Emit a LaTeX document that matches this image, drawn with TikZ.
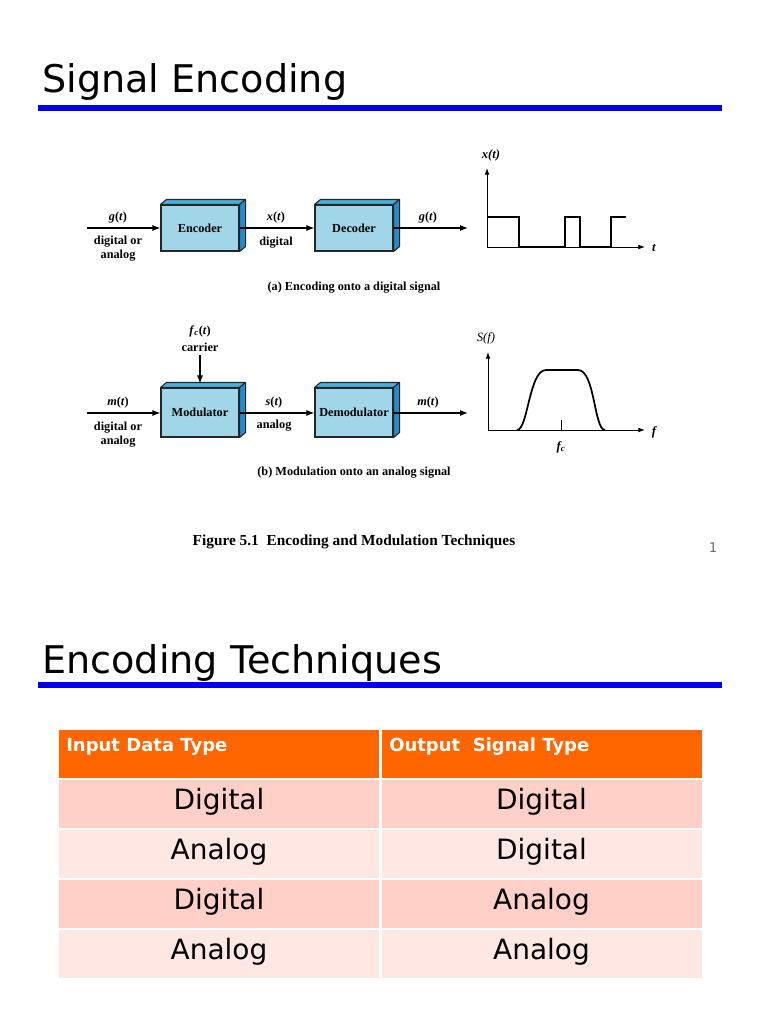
\documentclass[tikz,border=0pt]{standalone}
\usepackage{fontspec}
\setmainfont{DejaVu Sans}
\newfontfamily\figserif{Liberation Serif}
\usepackage{xcolor}
\definecolor{slideblue}{RGB}{0,0,238}
\definecolor{hdrorange}{RGB}{255,102,0}
\definecolor{rowdark}{RGB}{255,208,200}
\definecolor{rowlight}{RGB}{255,232,228}
\definecolor{boxfront}{RGB}{160,214,232}
\definecolor{boxtop}{RGB}{75,175,220}
\definecolor{boxside}{RGB}{35,140,200}
\definecolor{pagegray}{RGB}{110,110,110}
\usepackage{tikz}
\usetikzlibrary{arrows.meta, positioning, calc}

\tikzset{
  slidetitle/.style={anchor=base west, inner sep=0pt, font=\fontsize{28.6}{32}\selectfont},
  titlerule/.style={slideblue, line width=4.5pt},
  blockbox/.style={draw=black!85, fill=boxfront, line width=0.8pt, minimum width=58.5pt, minimum height=34.5pt, inner sep=0pt, font=\figserif\bfseries\fontsize{9.2}{10}\selectfont},
  boxface/.style={draw=black!85, line width=0.8pt, line join=round},
  figlabel/.style={inner sep=1pt, align=center, font=\figserif\bfseries\fontsize{9.2}{10.5}\selectfont},
  plotlabel/.style={inner sep=1pt, font=\figserif\itshape\fontsize{9.5}{10.5}\selectfont},
  sig/.style={-{Latex[length=6pt,width=4.5pt]}, line width=0.9pt},
  axisline/.style={-{Latex[length=5pt,width=3.5pt]}, line width=0.6pt},
  wave/.style={line width=1.3pt},
  cell/.style={draw=white, line width=1.5pt, minimum width=241.5pt, minimum height=37.5pt, inner sep=0pt, text height=14pt, text depth=6pt, font=\fontsize{21}{24}\selectfont},
  hdrtext/.style={anchor=base west, inner sep=0pt, text=white, font=\bfseries\fontsize{13.5}{16}\selectfont}
}

\begin{document}
\begin{tikzpicture}[x=0.75pt, y=-0.75pt]
  \fill[white] (0,0) rectangle (768,1024);
  \useasboundingbox (0,0) rectangle (768,1024);

  \node[slidetitle] (title1) at (42,93) {Signal Encoding};
  \draw[titlerule] (38,108) -- (722,108);

  \node[blockbox] (enc) at (200,228) {Encoder};
  \node[blockbox] (dec) at (354,228) {Decoder};
  \node[blockbox, minimum height=36.75pt] (mod) at (200,412.5) {Modulator};
  \node[blockbox, minimum height=36.75pt] (demod) at (354,412.5) {Demodulator};
  \foreach \b in {enc,dec,mod,demod}{
    \filldraw[boxface, fill=boxtop] (\b.north west) -- ++(6,-5) -- ($(\b.north east)+(6,-5)$) -- (\b.north east) -- cycle;
    \filldraw[boxface, fill=boxside] (\b.north east) -- ++(6,-5) -- ($(\b.south east)+(6,-5)$) -- (\b.south east) -- cycle;
  }

  \coordinate (gin) at (87,228);
  \coordinate (gout) at (468,228);
  \draw[sig] (gin) -- (enc.west);
  \draw[sig] (enc.east) -- (dec.west);
  \draw[sig] (dec.east) -- (gout);
  \node[figlabel] (gtin) at (118,218) {\textit{g}(\textit{t})};
  \node[figlabel] (gtinnote) at (118,249) {digital or\\analog};
  \node[figlabel] (xt) at (276,218) {\textit{x}(\textit{t})};
  \node[figlabel] (xtnote) at (276,243) {digital};
  \node[figlabel] (gtout) at (428,218) {\textit{g}(\textit{t})};
  \node[figlabel] (capa) at (354,288) {(a) Encoding onto a digital signal};

  \coordinate (oa) at (487,247);
  \coordinate (xa) at (645,247);
  \coordinate (ya) at (487,168);
  \draw[axisline] (oa) -- (xa);
  \draw[axisline] (oa) -- (ya);
  \node[plotlabel] (xtaxis) at (491,155) {\textbf{\textit{x}(\textit{t})}};
  \node[plotlabel] (taxis) at (654,248) {\textbf{t}};
  \draw[wave] (487,217) -- (519,217) -- (519,247) -- (565,247) -- (565,217) -- (580,217) -- (580,247) -- (611,247) -- (611,217) -- (626,217);

  \coordinate (fc) at (200,355);
  \coordinate (min) at (87,413);
  \coordinate (mout) at (468,413);
  \draw[sig] (fc) -- ([yshift=3pt]mod.north);
  \draw[sig] (min) -- (mod.west |- min);
  \draw[sig] (mod.east |- min) -- (demod.west |- min);
  \draw[sig] (demod.east |- min) -- (mout);
  \node[figlabel] (fct) at (200,331) {\textit{f}\textsubscript{\textit{c}}(\textit{t})};
  \node[figlabel] (fcnote) at (200,347) {carrier};
  \node[figlabel] (mtin) at (118,403) {\textit{m}(\textit{t})};
  \node[figlabel] (mtinnote) at (118,435) {digital or\\analog};
  \node[figlabel] (st) at (274,403) {\textit{s}(\textit{t})};
  \node[figlabel] (stnote) at (274,426) {analog};
  \node[figlabel] (mtout) at (428,403) {\textit{m}(\textit{t})};
  \node[figlabel] (capb) at (354,473) {(b) Modulation onto an analog signal};

  \coordinate (ob) at (488,430);
  \coordinate (xb) at (645,430);
  \coordinate (yb) at (488,352);
  \draw[axisline] (ob) -- (xb);
  \draw[axisline] (ob) -- (yb);
  \node[plotlabel] (sfaxis) at (486,338) {S(f)};
  \node[plotlabel] (faxis) at (654,432) {\textbf{f}};
  \draw[wave] (517,430) .. controls (528,430) and (529,370) .. (546,370) -- (578,370) .. controls (595,370) and (594,430) .. (605,430);
  \draw[line width=0.5pt] (561,420) -- (561,430);
  \node[plotlabel] (fcaxis) at (561,447) {\textbf{f}\textsubscript{\textbf{c}}};

  \node[font=\figserif\bfseries\fontsize{11.5}{13}\selectfont] (figcap) at (354,542) {Figure 5.1\ \ Encoding and Modulation Techniques};
  \node[text=pagegray, font=\fontsize{10}{12}\selectfont] (pagenum) at (713,548) {1};

  \node[slidetitle] (title2) at (42,673) {Encoding Techniques};
  \draw[titlerule] (38,685) -- (722,685);

  \node[cell, fill=hdrorange] (hin) at (219,754) {};
  \node[cell, fill=hdrorange] (hout) at (541.5,754) {};
  \node[hdrtext] (hintext) at (66,751) {Input Data Type};
  \node[hdrtext] (houttext) at (389,751) {Output\ \ Signal Type};
  \foreach \y/\a/\b/\c [count=\r] in {804/Digital/Digital/rowdark, 854/Analog/Digital/rowlight, 904/Digital/Analog/rowdark, 954/Analog/Analog/rowlight}{
    \node[cell, fill=\c] (r\r-in) at (219,\y) {\a};
    \node[cell, fill=\c] (r\r-out) at (541.5,\y) {\b};
  }
\end{tikzpicture}
\end{document}
